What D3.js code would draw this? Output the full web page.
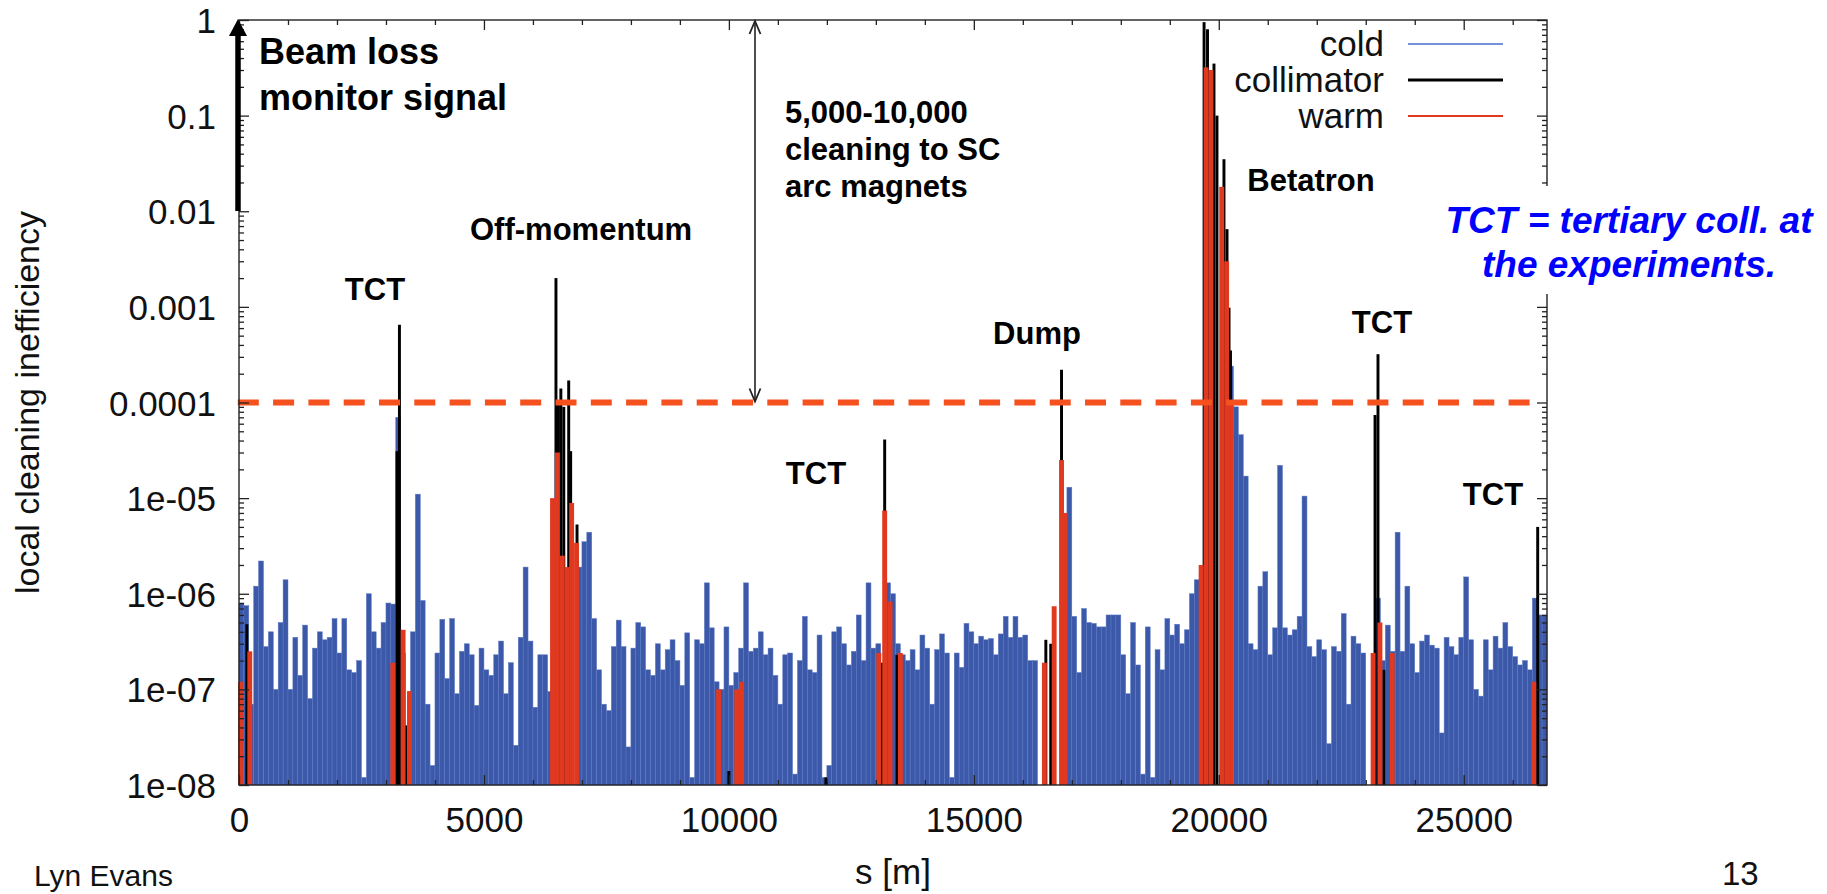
<!DOCTYPE html>
<html><head><meta charset="utf-8">
<script src="https://cdn.jsdelivr.net/npm/d3@7"></script>
<style>
html,body{margin:0;padding:0;background:#fff;overflow:hidden;}
svg text{font-family:"Liberation Sans",Arial,Helvetica,sans-serif;}
</style></head><body>
<svg id="chart" width="1827" height="894"></svg>
<script>
// ---------------- data ----------------
const binWidth = 100; // metres per cold-magnet bin, bins start at s = 0
const coldValues = [
 8e-7,7.5e-7,7e-8,1.2e-6,2.2e-6,2.8e-7,4e-7,1e-7,5e-7,1.4e-6,
 1e-7,3.5e-7,1.4e-7,4.7e-7,8e-8,2.7e-7,4e-7,3.3e-7,3.5e-7,5.5e-7,
 2.4e-7,5.5e-7,1.6e-7,1.5e-7,2e-7,1.2e-8,1e-6,4e-7,2.7e-7,5e-7,
 8e-7,7.8e-7,7e-5,2.4e-7,1.5e-8,4e-7,1.1e-5,8.5e-7,7e-8,1.6e-8,
 2.4e-7,5.4e-7,1.3e-7,5.5e-7,9e-8,2.5e-7,3e-7,2.3e-7,6.8e-8,2.7e-7,
 1.6e-7,1.4e-7,2.3e-7,3.2e-7,9e-8,1.9e-7,2.6e-8,3.5e-7,1.9e-6,3.2e-7,
 6.5e-8,2.3e-7,2.3e-7,9.5e-8,1.5e-8,1e-8,1e-8,1e-8,1e-8,1.9e-6,
 3.5e-6,4.4e-6,5.5e-7,1.6e-7,7e-8,6e-8,2.8e-7,5.3e-7,2.8e-7,2.5e-8,
 2.7e-7,5e-7,4.5e-7,1.6e-7,1.4e-7,3e-7,1.6e-7,2.6e-7,3.3e-7,2e-7,
 1.1e-7,3.9e-7,1.2e-8,3.3e-7,3e-7,1.3e-6,4.4e-7,1.2e-7,1e-7,4.5e-7,
 1.1e-7,1.5e-7,2.7e-7,1.3e-6,2.5e-7,2.7e-7,4e-7,2.3e-7,2.7e-7,1.4e-7,
 7e-8,2.3e-7,2.4e-7,1.3e-8,2e-7,5.8e-7,1.6e-7,1.5e-7,3.7e-7,1.2e-8,
 1.6e-8,4e-7,4.5e-7,3e-7,1.8e-7,2.5e-7,6e-7,2e-7,1.3e-6,2.7e-7,
 3e-7,1e-8,1.3e-6,1e-6,3e-7,2.3e-7,2e-7,2.6e-7,1.6e-7,3.7e-7,
 2.7e-7,7e-8,2.6e-7,3.8e-7,2.4e-7,1.2e-8,2.4e-7,1.7e-7,4.9e-7,4e-7,
 3e-7,3.6e-7,3.3e-7,3.4e-7,2.3e-7,3.8e-7,5.8e-7,3.5e-7,5.8e-7,3.5e-7,
 3.7e-7,2e-7,2e-7,1e-8,1e-8,1e-8,1e-8,1e-8,1e-8,1.3e-5,
 5.8e-7,1.5e-7,7e-7,5e-7,4.9e-7,4.5e-7,4.5e-7,6e-7,6e-7,6e-7,
 2.3e-7,9e-8,5e-7,1.8e-7,1.3e-8,4.5e-7,1.2e-8,2.6e-7,1.6e-7,5.5e-7,
 3.7e-7,4.8e-7,3e-7,4.2e-7,1e-6,1.4e-6,1.7e-6,1.3e-6,1e-8,1e-8,
 1e-8,1e-8,2.4e-4,9e-5,4.6e-5,1.7e-5,3e-7,2.6e-7,1.2e-6,1.7e-6,
 2.3e-7,4.4e-7,2.2e-5,4.4e-7,3.7e-7,4.2e-7,5.8e-7,1.05e-5,2.8e-7,2.2e-7,
 3.3e-7,2.6e-7,2.7e-8,2.8e-7,2.5e-7,6.2e-7,7e-8,3.6e-7,3e-7,2.4e-7,
 1e-8,1e-8,9e-7,2e-7,4.7e-7,2.5e-7,4.4e-6,2.5e-7,1.2e-6,3e-7,
 1.5e-7,3.2e-7,3.7e-7,2.9e-7,2.7e-7,3.5e-8,3.5e-7,2.8e-7,2.3e-7,3.5e-7,
 1.5e-6,3.3e-7,1e-7,8.5e-8,3.3e-7,1.6e-7,3.6e-7,2.7e-7,5e-7,2.8e-7,
 2.2e-7,1.8e-7,2e-7,1.6e-7,9e-7,6e-7,6e-7
];
const collimatorS = [160, 3225, 3275, 3400, 6470, 6520, 6570, 6630, 6730, 6770, 6900,
  10000, 11980, 13130, 13180, 13430, 16470, 16570, 16790,
  19700, 19770, 19902, 19963, 20106, 20168, 20209, 20239,
  23190, 23250, 23370, 26510];
const collimatorV = [4.8e-7, 3.1e-5, 6.5e-4, 4.2e-8, 2e-3, 1e-4, 1.4e-4, 9e-5, 1.7e-4, 3.1e-5, 5.3e-6,
  1.4e-8, 1.2e-8, 1.9e-7, 4.1e-5, 2.3e-7, 3.3e-7, 3e-7, 2.2e-4,
  0.95, 0.8, 0.35, 0.1, 0.035, 6.5e-3, 9.8e-4, 3.5e-4,
  7.4e-5, 3.2e-4, 1.6e-7, 5e-6];
const warmS = [30, 220, 3140, 3350, 3480, 6400, 6500, 6600, 6700, 6790, 6890,
  9790, 10160, 10260, 13060, 13180, 13290, 13500,
  16440, 16640, 16790, 16860,
  19640, 19740, 19840, 20060, 20160, 20250,
  23150, 23290, 23540, 26430];
const warmV = [1.2e-7, 2.5e-7, 1.9e-7, 4.2e-7, 9.6e-8, 1e-5, 3e-5, 2.5e-6, 1.9e-6, 8.9e-6, 3.4e-6,
  1e-7, 1e-7, 1.2e-7, 2.4e-7, 7.4e-6, 8.3e-7, 2.4e-7,
  1.9e-7, 7.4e-7, 2.5e-5, 7e-6,
  2e-6, 0.32, 0.3, 0.018, 3e-3, 1e-4,
  2.4e-7, 5e-7, 2.4e-7, 1.2e-7];
const thresholdValue = 1e-4;
const yTickValues = [1, 0.1, 0.01, 0.001, 0.0001, 1e-5, 1e-6, 1e-7, 1e-8];
const yTickLabels = ["1", "0.1", "0.01", "0.001", "0.0001", "1e-05", "1e-06", "1e-07", "1e-08"];
const xTickValues = [0, 5000, 10000, 15000, 20000, 25000];
const xTickLabels = ["0", "5000", "10000", "15000", "20000", "25000"];
const legendLabels = ["cold", "collimator", "warm"];
const colors = {cold: "#3c58a8", coldEdge: "#5b78c6", collimator: "#000000", warm: "#e0391f", threshold: "#f4511e", legendCold: "#4a6ccc"};

// ---------------- layout ----------------
const L = 239, R = 1547, T = 20, B = 785;
const svg = d3.select("#chart");
const x = d3.scaleLinear().domain([0, 26700]).range([L, R]);
const y = d3.scaleLog().domain([1e-8, 1]).range([B, T]);

const plot = svg.append("g");
// cold bars
plot.append("g").selectAll("rect")
  .data(coldValues.map((v, i) => ({s0: i * binWidth, s1: (i + 1) * binWidth, v})).filter(d => d.v > 1e-8))
  .join("rect")
  .attr("x", d => x(d.s0)).attr("width", d => x(d.s1) - x(d.s0))
  .attr("y", d => y(d.v)).attr("height", d => B - y(d.v))
  .attr("fill", colors.cold).attr("stroke", colors.coldEdge).attr("stroke-width", 0.5);
// collimator bars
const collW = 60;
plot.append("g").selectAll("rect")
  .data(collimatorS.map((s, i) => ({s, v: collimatorV[i]})))
  .join("rect")
  .attr("x", d => x(d.s - collW / 2)).attr("width", x(collW) - x(0))
  .attr("y", d => y(d.v)).attr("height", d => B - y(d.v))
  .attr("fill", colors.collimator);
// warm bars
const warmW = 100;
plot.append("g").selectAll("rect")
  .data(warmS.map((s, i) => ({s, v: warmV[i]})))
  .join("rect")
  .attr("x", d => x(d.s - warmW / 2)).attr("width", x(warmW) - x(0))
  .attr("y", d => y(d.v)).attr("height", d => B - y(d.v))
  .attr("fill", colors.warm);

// threshold dashed line
svg.append("line")
  .attr("x1", 237.8).attr("x2", 1530)
  .attr("y1", y(thresholdValue)).attr("y2", y(thresholdValue))
  .attr("stroke", colors.threshold).attr("stroke-width", 6)
  .attr("stroke-dasharray", "21 14.3");

// frame
svg.append("rect").attr("x", L).attr("y", T).attr("width", R - L).attr("height", B - T)
  .attr("fill", "none").attr("stroke", "#222").attr("stroke-width", 1.4);

// axes
const yMinor = [];
for (let e = -8; e < 0; e++) for (let m = 2; m <= 9; m++) yMinor.push(m * Math.pow(10, e));
const xMinor = d3.range(0, 26001, 1000).filter(v => v % 5000 !== 0);

function styleAxis(g) {
  g.select(".domain").remove();
  g.selectAll(".tick line").attr("stroke", "#222").attr("stroke-width", 1.3);
  g.selectAll(".tick text").attr("fill", "#111").attr("font-size", 35)
    .attr("font-family", "'Liberation Sans', Arial, sans-serif");
}
svg.append("g").attr("transform", `translate(${L},0)`)
  .call(d3.axisLeft(y).tickValues(yTickValues).tickSize(-10).tickPadding(23)
    .tickFormat((d, i) => yTickLabels[i]))
  .call(styleAxis)
  .call(g => g.selectAll(".tick text").attr("dy", "0.36em"));
svg.append("g").attr("transform", `translate(${L},0)`)
  .call(d3.axisLeft(y).tickValues(yMinor).tickSize(-5).tickFormat(""))
  .call(styleAxis);
svg.append("g").attr("transform", `translate(${R},0)`)
  .call(d3.axisRight(y).tickValues(yTickValues).tickSize(-10).tickFormat(""))
  .call(styleAxis);
svg.append("g").attr("transform", `translate(${R},0)`)
  .call(d3.axisRight(y).tickValues(yMinor).tickSize(-5).tickFormat(""))
  .call(styleAxis);
svg.append("g").attr("transform", `translate(0,${B})`)
  .call(d3.axisBottom(x).tickValues(xTickValues).tickSize(-10).tickPadding(22)
    .tickFormat((d, i) => xTickLabels[i]))
  .call(styleAxis)
  .call(g => g.selectAll(".tick text").attr("dy", "0.71em"));
svg.append("g").attr("transform", `translate(0,${B})`)
  .call(d3.axisBottom(x).tickValues(xMinor).tickSize(-5).tickFormat(""))
  .call(styleAxis);
svg.append("g").attr("transform", `translate(0,${T})`)
  .call(d3.axisTop(x).tickValues(xTickValues).tickSize(-10).tickFormat(""))
  .call(styleAxis);
svg.append("g").attr("transform", `translate(0,${T})`)
  .call(d3.axisTop(x).tickValues(xMinor).tickSize(-5).tickFormat(""))
  .call(styleAxis);

// axis titles
svg.append("text").attr("transform", `translate(39,${(T + B) / 2}) rotate(-90)`)
  .attr("text-anchor", "middle").attr("font-size", 34).attr("fill", "#111")
  .text("local cleaning inefficiency");
svg.append("text").attr("x", (L + R) / 2).attr("y", 884)
  .attr("text-anchor", "middle").attr("font-size", 35).attr("fill", "#111")
  .text("s [m]");

// legend
const legendColors = [colors.legendCold, colors.collimator, colors.warm];
const legendWidths = [1.6, 3.2, 2];
legendLabels.forEach((lab, i) => {
  const ly = 44 + i * 36;
  svg.append("text").attr("x", 1384).attr("y", ly + 12).attr("text-anchor", "end")
    .attr("font-size", 35).attr("fill", "#111").text(lab);
  svg.append("line").attr("x1", 1408).attr("x2", 1503).attr("y1", ly).attr("y2", ly)
    .attr("stroke", legendColors[i]).attr("stroke-width", legendWidths[i]);
});

// annotations
function boldText(txt, xx, yy, size, anchor) {
  svg.append("text").attr("x", xx).attr("y", yy).attr("font-size", size)
    .attr("font-weight", "bold").attr("fill", "#000")
    .attr("text-anchor", anchor || "start").text(txt);
}
boldText("Beam loss", 259, 64, 36);
boldText("monitor signal", 259, 110, 36);
boldText("5,000-10,000", 785, 123, 31);
boldText("cleaning to SC", 785, 160, 31);
boldText("arc magnets", 785, 197, 31);
boldText("Off-momentum", 470, 240, 31);
boldText("TCT", 375, 300, 31, "middle");
boldText("TCT", 816, 484, 31, "middle");
boldText("Dump", 1037, 344, 31, "middle");
boldText("Betatron", 1311, 191, 31, "middle");
boldText("TCT", 1382, 333, 31, "middle");
boldText("TCT", 1493, 505, 31, "middle");

// white text box of the blue note (it hides the right frame behind it)
svg.append("rect").attr("x", 1432).attr("y", 186).attr("width", 395).attr("height", 108).attr("fill", "#fff");
svg.append("text").attr("x", 1629).attr("y", 233).attr("text-anchor", "middle")
  .attr("font-size", 37).attr("font-weight", "bold").attr("font-style", "italic")
  .attr("fill", "#0000ff").text("TCT = tertiary coll. at");
svg.append("text").attr("x", 1629).attr("y", 277).attr("text-anchor", "middle")
  .attr("font-size", 37).attr("font-weight", "bold").attr("font-style", "italic")
  .attr("fill", "#0000ff").text("the experiments.");

svg.append("text").attr("x", 34).attr("y", 886).attr("font-size", 30).attr("fill", "#111").text("Lyn Evans");
svg.append("text").attr("x", 1722).attr("y", 885).attr("font-size", 33).attr("fill", "#111").text("13");

// thick "beam loss monitor signal" arrow
svg.append("line").attr("x1", 238).attr("x2", 238).attr("y1", 211).attr("y2", 32)
  .attr("stroke", "#000").attr("stroke-width", 5.5);
svg.append("path").attr("d", "M238,19 L229,36 L247,36 Z").attr("fill", "#000");

// thin double arrow (cleaning ratio)
const ax = 755;
svg.append("line").attr("x1", ax).attr("x2", ax).attr("y1", 21).attr("y2", y(thresholdValue) - 1)
  .attr("stroke", "#222").attr("stroke-width", 1.6);
svg.append("path").attr("d", `M${ax - 5.5},34 L${ax},21 L${ax + 5.5},34`)
  .attr("fill", "none").attr("stroke", "#222").attr("stroke-width", 1.8);
svg.append("path").attr("d", `M${ax - 5.5},${y(thresholdValue) - 14} L${ax},${y(thresholdValue) - 1} L${ax + 5.5},${y(thresholdValue) - 14}`)
  .attr("fill", "none").attr("stroke", "#222").attr("stroke-width", 1.8);
</script>
</body></html>
